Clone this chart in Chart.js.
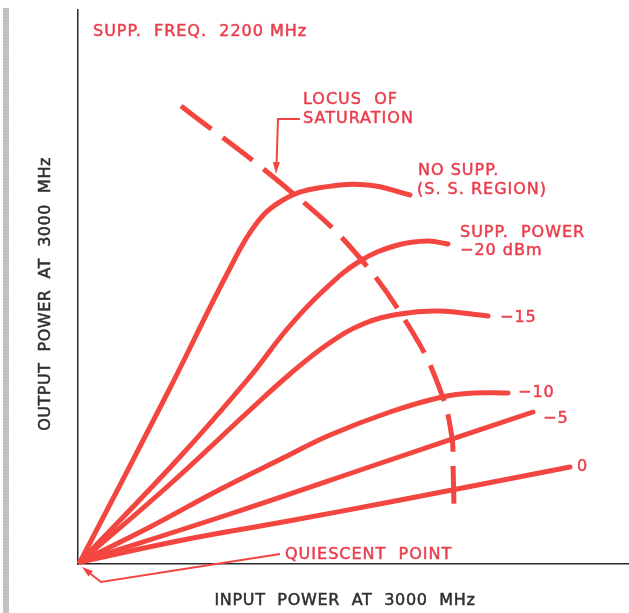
<!DOCTYPE html>
<html>
<head>
<meta charset="utf-8">
<script src="https://cdn.jsdelivr.net/npm/chart.js@4.4.0/dist/chart.umd.min.js"></script>
<style>
  html, body { margin: 0; padding: 0; background: #fff; }
  #wrap { position: relative; width: 629px; height: 613px; }
  #strip {
    position: absolute; left: 3px; top: 8px; width: 6px; height: 605px;
    background: repeating-linear-gradient(0deg, #c9c9c9 0px, #b9b9b9 2px, #cfcfcf 3px);
  }
  canvas { position: absolute; left: 0; top: 0; }
</style>
</head>
<body>
<div id="wrap">
  <div id="strip"></div>
  <canvas id="myChart" width="629" height="613"></canvas>
</div>
<script>
// output vs input power curves (arbitrary units)
const noSuppX = [2, 90, 150, 178, 205, 240, 290, 332];
const noSuppY = [2, 172, 292, 340, 364, 376, 379, 369];

const minus20X = [2, 100, 170, 210, 245, 282, 320, 350, 370];
const minus20Y = [2, 105, 185, 236, 273, 303, 319, 323, 320];

const minus15X = [2, 90, 172, 212, 250, 285, 322, 360, 410];
const minus15Y = [2, 78, 154, 190, 220, 240, 250, 253, 248];

const minus10X = [2, 72, 139, 205, 252, 312, 364, 395, 430];
const minus10Y = [2, 37, 73, 106, 129, 152, 167, 171, 171];

const minus5X = [2, 155, 312, 455];
const minus5Y = [2, 51, 104, 152];

const zeroX = [2, 105, 205, 312, 374, 492];
const zeroY = [2, 24, 42, 62, 74, 97];

// locus of saturation (dashed)
const locusX = [103, 205, 275, 335, 364, 374, 375, 376];
const locusY = [458, 379, 314, 231, 169, 126, 100, 57];

const RED = 'rgb(244,70,64)';
const TEXT_RED = 'rgb(234,62,76)';

function pts(xs, ys) {
    return xs.map((x, i) => ({ x: x, y: ys[i] }));
}

function curve(label, xs, ys) {
    return {
        label: label,
        data: pts(xs, ys),
        showLine: true,
        borderColor: RED,
        borderWidth: 5,
        borderCapStyle: 'round',
        borderJoinStyle: 'round',
        tension: 0.4,
        pointRadius: 0,
        clip: false
    };
}

const labels = [
    { text: 'SUPP.  FREQ.  2200 MHz', x: 15, y: 532 },
    { text: 'LOCUS  OF', x: 225, y: 464 },
    { text: 'SATURATION', x: 225, y: 445 },
    { text: 'NO SUPP.', x: 340, y: 393 },
    { text: '(S. S. REGION)', x: 339, y: 374 },
    { text: 'SUPP.  POWER', x: 382, y: 331 },
    { text: '\u221220 dBm', x: 382, y: 313 },
    { text: '\u221215', x: 422, y: 246 },
    { text: '\u221210', x: 440, y: 171 },
    { text: '\u22125', x: 465, y: 145 },
    { text: '0', x: 499, y: 97 },
    { text: 'QUIESCENT  POINT', x: 207, y: 9 }
];

function arrowHead(ctx, fx, fy, tx, ty, len, half) {
    const a = Math.atan2(ty - fy, tx - fx);
    ctx.beginPath();
    ctx.moveTo(tx, ty);
    ctx.lineTo(tx - len * Math.cos(a) + half * Math.sin(a), ty - len * Math.sin(a) - half * Math.cos(a));
    ctx.lineTo(tx - len * Math.cos(a) - half * Math.sin(a), ty - len * Math.sin(a) + half * Math.cos(a));
    ctx.closePath();
    ctx.fill();
}

function drawText(ctx, text, x, y) {
    ctx.fillText(text, x, y);
    ctx.strokeText(text, x, y);
}

const annotate = {
    id: 'annotate',
    afterDatasetsDraw(chart) {
        const ctx = chart.ctx;
        const sx = chart.scales.x, sy = chart.scales.y;
        const px = v => sx.getPixelForValue(v);
        const py = v => sy.getPixelForValue(v);
        ctx.save();

        // leader lines
        ctx.strokeStyle = RED;
        ctx.fillStyle = RED;
        ctx.lineWidth = 2;
        ctx.lineCap = 'butt';
        ctx.beginPath();
        ctx.moveTo(px(222), py(445));
        ctx.lineTo(px(200), py(445));
        ctx.lineTo(px(198.5), py(398));
        ctx.stroke();
        arrowHead(ctx, px(200), py(445), px(198), py(390), 12, 3.5);

        ctx.beginPath();
        ctx.moveTo(px(202), py(10));
        ctx.lineTo(px(23), py(-18));
        ctx.lineTo(px(9), py(-7));
        ctx.stroke();
        arrowHead(ctx, px(23), py(-18), px(4), py(-3), 11, 3.5);

        // labels
        ctx.font = '16px "DejaVu Sans"';
        ctx.letterSpacing = '1px';
        ctx.textBaseline = 'middle';
        ctx.textAlign = 'left';
        ctx.fillStyle = TEXT_RED;
        ctx.strokeStyle = TEXT_RED;
        ctx.lineWidth = 0.5;
        labels.forEach(l => drawText(ctx, l.text, px(l.x), py(l.y)));

        // axis titles
        ctx.fillStyle = '#2f2f2f';
        ctx.strokeStyle = '#2f2f2f';
        ctx.textAlign = 'center';
        ctx.letterSpacing = '0.7px';
        drawText(ctx, 'INPUT  POWER  AT  3000  MHz', px(267), py(-37));
        ctx.letterSpacing = '0.5px';
        ctx.translate(px(-32), py(270));
        ctx.rotate(-Math.PI / 2);
        drawText(ctx, 'OUTPUT  POWER  AT  3000  MHz', 0, 0);
        ctx.restore();
    }
};

const myChartRef = document.getElementById('myChart').getContext('2d');

new Chart(myChartRef, {
    type: 'scatter',
    data: {
        datasets: [
            curve('No supp. (S.S. region)', noSuppX, noSuppY),
            curve('-20 dBm', minus20X, minus20Y),
            curve('-15', minus15X, minus15Y),
            curve('-10', minus10X, minus10Y),
            curve('-5', minus5X, minus5Y),
            curve('0', zeroX, zeroY),
            {
                label: 'Locus of saturation',
                data: pts(locusX, locusY),
                showLine: true,
                borderColor: RED,
                borderWidth: 5,
                borderDash: [38, 14],
                borderCapStyle: 'butt',
                tension: 0.4,
                pointRadius: 0,
                clip: false
            }
        ]
    },
    options: {
        responsive: false,
        animation: false,
        devicePixelRatio: 1,
        layout: { padding: { left: 78, right: 0, top: 10, bottom: 49 } },
        plugins: { legend: { display: false }, tooltip: { enabled: false } },
        scales: {
            x: {
                type: 'linear', min: 0, max: 551,
                ticks: { display: false },
                grid: { display: false, drawTicks: false },
                border: { display: true, color: '#2a2a2a', width: 1.5 }
            },
            y: {
                type: 'linear', min: 0, max: 554,
                ticks: { display: false },
                grid: { display: false, drawTicks: false },
                border: { display: true, color: '#2a2a2a', width: 1.5 }
            }
        }
    },
    plugins: [annotate]
});
</script>
</body>
</html>
